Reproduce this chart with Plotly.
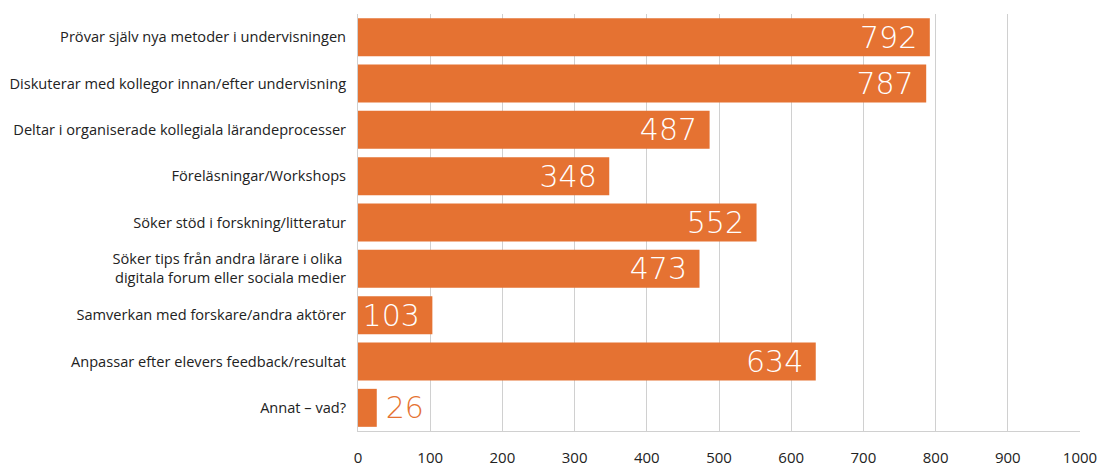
import plotly.graph_objects as go

categories = [
    "Prövar själv nya metoder i undervisningen",
    "Diskuterar med kollegor innan/efter undervisning",
    "Deltar i organiserade kollegiala lärandeprocesser",
    "Föreläsningar/Workshops",
    "Söker stöd i forskning/litteratur",
    "Söker tips från andra lärare i olika <br>digitala forum eller sociala medier",
    "Samverkan med forskare/andra aktörer",
    "Anpassar efter elevers feedback/resultat",
    "Annat – vad?",
]
values = [792, 787, 487, 348, 552, 473, 103, 634, 26]
tick_vals = [0, 100, 200, 300, 400, 500, 600, 700, 800, 900, 1000]

ORANGE = "#E57232"
positions = ["inside" if v > 60 else "outside" for v in values]
text_colors = ["white" if v > 60 else ORANGE for v in values]
labels = [(str(v) + "\u00a0") if v > 60 else ("\u2009" + str(v)) for v in values]

fig = go.Figure(go.Bar(
    y=categories, x=values, orientation="h",
    marker=dict(color=ORANGE, line=dict(width=0)),
    text=labels,
    textposition=positions,
    insidetextanchor="end",
    textfont=dict(size=30, color=text_colors, family="DejaVu Sans, sans-serif", weight=300),
    constraintext="none",
    cliponaxis=False,
))

fig.update_layout(
    width=1099, height=468,
    margin=dict(l=358, r=19, t=14, b=37),
    paper_bgcolor="white", plot_bgcolor="white",
    bargap=0.18,
    showlegend=False,
    font=dict(family="Open Sans, sans-serif", size=14.6, color="#222222"),
    xaxis=dict(range=[0, 1000], tickvals=tick_vals, showgrid=True, gridcolor="#D0D0D0",
               gridwidth=1, zeroline=False, showline=True, linecolor="#D0D0D0",
               ticks="", ticklabelstandoff=13, automargin=False,
               tickfont=dict(size=15, color="#222222")),
    yaxis=dict(autorange="reversed", showline=True, linecolor="#D0D0D0", ticks="",
               ticklabelstandoff=8, automargin=False,
               tickfont=dict(size=14.6, color="#222222")),
)

fig.write_html("out.html", config={"displayModeBar": False},
               post_script="document.body.style.margin='0';document.body.style.overflow='hidden';")
